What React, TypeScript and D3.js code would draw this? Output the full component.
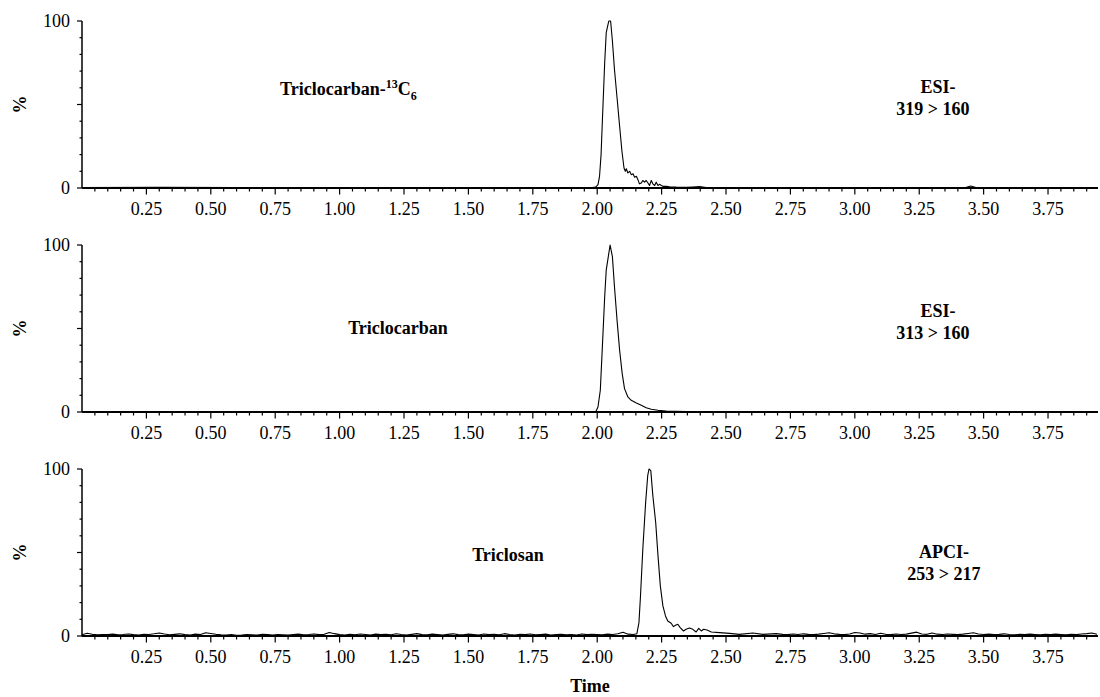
import React from "react";
import * as d3 from "d3";

// ---------- DATA ----------
const xTickLabels = ["0.25", "0.50", "0.75", "1.00", "1.25", "1.50", "1.75", "2.00", "2.25", "2.50", "2.75", "3.00", "3.25", "3.50", "3.75"];
const yTickLabels = ["0", "100"];

// Triclocarban-13C6 (ESI- 319 > 160): [time, %]
const triclocarban13C6: [number, number][] = [
  [0.0, 0.2], [0.3, 0.4], [0.6, 0.2], [0.9, 0.3], [1.2, 0.2], [1.5, 0.3], [1.8, 0.2], [1.98, 0.3],
  [1.994, 0.5], [2.003, 2], [2.009, 7], [2.015, 20], [2.02, 40], [2.029, 75], [2.035, 93], [2.042, 98],
  [2.045, 100], [2.052, 100], [2.059, 88], [2.067, 71], [2.077, 54], [2.087, 37], [2.096, 22],
  [2.104, 12], [2.109, 10], [2.113, 11.5], [2.119, 9], [2.126, 10], [2.132, 8], [2.139, 8.5],
  [2.145, 6.5], [2.152, 7], [2.158, 5], [2.164, 2.5], [2.171, 3], [2.177, 4.5], [2.184, 3.5],
  [2.19, 4.5], [2.197, 3], [2.203, 1.5], [2.21, 4.5], [2.216, 2.5], [2.223, 1.5], [2.229, 3.5],
  [2.236, 1.5], [2.242, 2.2], [2.249, 1.5], [2.255, 1], [2.268, 1], [2.281, 0.7], [2.307, 0.5],
  [2.345, 0.4], [2.371, 0.6], [2.397, 0.8], [2.423, 0.3], [2.7, 0.2], [3.0, 0.3], [3.3, 0.2],
  [3.43, 0.3], [3.45, 1.2], [3.47, 0.3], [3.7, 0.2], [3.944, 0.2],
];

// Triclocarban (ESI- 313 > 160)
const triclocarban: [number, number][] = [
  [0.0, 0], [1.994, 0], [2.003, 3], [2.012, 13], [2.02, 39], [2.029, 69], [2.035, 85], [2.042, 92],
  [2.05, 100], [2.059, 93], [2.067, 75], [2.077, 55], [2.087, 37], [2.097, 23], [2.106, 14],
  [2.119, 9], [2.132, 7], [2.152, 5.4], [2.171, 4], [2.19, 2.6], [2.21, 1.6], [2.236, 1],
  [2.268, 0.6], [2.307, 0.4], [2.345, 0.2], [2.4, 0], [3.944, 0],
];

// Triclosan (APCI- 253 > 217): baseline before peak, sampled every 0.02 min from 0.00
const triclosanBaselineBefore = [
  0.8, 1.6, 1.0, 0.7, 0.9, 0.8, 1.1, 0.7, 0.9, 1.2, 0.8, 0.6, 1.0, 0.9, 1.3, 1.8, 1.2, 0.7, 1.0, 1.3,
  0.8, 0.6, 1.1, 0.9, 1.9, 1.5, 1.0, 0.7, 0.5, 0.8, 0.4, 0.6, 0.9, 0.7, 0.5, 1.0, 0.8, 0.6, 0.9, 0.7,
  0.5, 0.8, 1.1, 0.7, 0.9, 1.2, 0.8, 1.0, 2.1, 1.4, 0.8, 0.6, 1.0, 0.7, 1.2, 0.9, 0.6, 1.1, 0.8, 1.0,
  0.7, 1.3, 0.9, 0.6, 1.0, 1.4, 0.8, 0.7, 1.1, 0.9, 0.6, 1.0, 1.3, 0.8, 0.7, 1.1, 0.9, 0.6, 1.2, 0.8,
  1.0, 0.7, 1.4, 0.9, 0.6, 1.0, 0.8, 1.2, 0.7, 0.9, 1.1, 0.6, 0.8, 1.0, 0.7, 0.9, 0.6, 1.2, 0.8, 1.0,
  0.9, 0.7, 1.1, 0.9, 1.3, 2.2, 1.1, 0.9,
];
const triclosanPeak: [number, number][] = [
  [2.154, 1.4], [2.162, 8], [2.168, 24], [2.177, 52], [2.188, 80], [2.196, 96], [2.201, 100],
  [2.208, 99], [2.216, 84], [2.227, 68], [2.236, 48], [2.245, 30], [2.255, 18], [2.265, 12],
  [2.274, 9], [2.287, 7.6], [2.296, 5.6], [2.304, 6.4], [2.313, 7], [2.322, 5], [2.335, 3],
  [2.345, 4], [2.358, 4.8], [2.371, 4], [2.384, 2.4], [2.394, 4.6], [2.404, 3], [2.413, 4],
  [2.426, 3.6], [2.443, 2.4], [2.475, 2], [2.514, 1.6], [2.552, 1], [2.604, 1.8], [2.643, 1],
  [2.695, 1.4],
];
// baseline after peak, sampled every 0.02 min from 2.72
const triclosanBaselineAfter = [
  1.0, 0.8, 1.2, 0.9, 1.3, 1.0, 0.8, 1.1, 1.5, 1.9, 1.3, 1.0, 0.8, 1.2, 2.1, 1.8, 1.1, 1.4, 0.9, 1.6,
  1.0, 0.8, 1.2, 0.9, 1.1, 1.7, 2.3, 1.2, 1.0, 1.8, 1.1, 0.9, 1.2, 1.0, 0.8, 1.1, 1.5, 1.9, 1.2, 0.9,
  1.1, 0.8, 1.0, 1.3, 0.9, 0.7, 1.0, 0.8, 1.1, 0.9, 0.7, 1.0, 0.8, 1.1, 0.9, 0.7, 1.0, 0.8, 1.2, 1.4,
  1.8, 1.0,
];
const SAMPLE_STEP = 0.02;
const BEFORE_START = 0.0;
const AFTER_START = 2.72;

const triclosan: [number, number][] = [
  ...triclosanBaselineBefore.map((v, i) => [BEFORE_START + i * SAMPLE_STEP, v] as [number, number]),
  ...triclosanPeak,
  ...triclosanBaselineAfter.map((v, i) => [AFTER_START + i * SAMPLE_STEP, v] as [number, number]),
];

const X_MAX = 3.944;

// ---------- LAYOUT ----------
const W = 1100;
const H = 697;
const AXIS_X0 = 82;
const AXIS_X1 = 1098;
const PANEL_TOPS = [21, 245, 469];
const PANEL_H = 167;
const FONT = "'Liberation Serif', 'Times New Roman', Times, serif";

type Label = { text: string; x: number; y: number; anchor: string };

type Panel = {
  data: [number, number][];
  title: React.ReactNode;
  titleX: number;
  titleY: number;
  titleAnchor: string;
  right: Label[];
};

const xScale = d3.scaleLinear().domain([0, X_MAX]).range([AXIS_X0, AXIS_X1]);
const minorTicks = d3.range(0.05, X_MAX, 0.05);
const yMinorTicks = d3.range(0, 101, 10);

function PanelView({ p, top }: { p: Panel; top: number }) {
  const y = d3.scaleLinear().domain([0, 100]).range([top + PANEL_H, top]);
  const line = d3
    .line<[number, number]>()
    .x((d) => xScale(d[0]))
    .y((d) => y(d[1]));
  const y0 = y(0);
  return (
    <g>
      <path d={line(p.data) || ""} fill="none" stroke="#000" strokeWidth={1.1} strokeLinejoin="round" />
      {/* y axis */}
      <line x1={AXIS_X0} x2={AXIS_X0} y1={y(100)} y2={y0} stroke="#000" strokeWidth={1.5} />
      {yMinorTicks.map((v) => (
        <line
          key={v}
          x1={AXIS_X0 - (v % 50 === 0 ? 5 : 2.5)}
          x2={AXIS_X0}
          y1={y(v)}
          y2={y(v)}
          stroke="#000"
          strokeWidth={1.2}
        />
      ))}
      {yTickLabels.map((t) => (
        <text key={t} x={70} y={y(+t)} dy="0.33em" textAnchor="end" fontSize={18} fontFamily={FONT}>
          {t}
        </text>
      ))}
      <text
        transform={`translate(20,${(y(0) + y(100)) / 2}) rotate(-90)`}
        textAnchor="middle"
        dy="0.35em"
        fontSize={18}
        fontWeight="bold"
        fontFamily={FONT}
      >
        %
      </text>
      {/* x axis */}
      <line x1={AXIS_X0} x2={AXIS_X1} y1={y0} y2={y0} stroke="#000" strokeWidth={2} />
      {minorTicks.map((t, i) => {
        const major = Math.abs(t / 0.25 - Math.round(t / 0.25)) < 1e-6;
        return (
          <line key={i} x1={xScale(t)} x2={xScale(t)} y1={y0} y2={y0 + (major ? 6.5 : 3.5)} stroke="#000" strokeWidth={1.2} />
        );
      })}
      {xTickLabels.map((t) => (
        <text key={t} x={xScale(+t)} y={y0 + 27} textAnchor="middle" fontSize={18} fontFamily={FONT}>
          {t}
        </text>
      ))}
      <text x={p.titleX} y={p.titleY} textAnchor={p.titleAnchor} fontSize={18} fontWeight="bold" fontFamily={FONT}>
        {p.title}
      </text>
      {p.right.map((l, i) => (
        <text key={i} x={l.x} y={l.y} textAnchor={l.anchor} fontSize={18} fontWeight="bold" fontFamily={FONT}>
          {l.text}
        </text>
      ))}
    </g>
  );
}

const panels: Panel[] = [
  {
    data: triclocarban13C6,
    title: (
      <>
        Triclocarban-
        <tspan dy={-7} fontSize={12}>13</tspan>
        <tspan dy={7}>C</tspan>
        <tspan dy={5} fontSize={12}>6</tspan>
      </>
    ),
    titleX: 280,
    titleY: 95,
    titleAnchor: "start",
    right: [
      { text: "ESI-", x: 938, y: 93, anchor: "middle" },
      { text: "319 > 160", x: 933, y: 115, anchor: "middle" },
    ],
  },
  {
    data: triclocarban,
    title: "Triclocarban",
    titleX: 398,
    titleY: 334,
    titleAnchor: "middle",
    right: [
      { text: "ESI-", x: 938, y: 317, anchor: "middle" },
      { text: "313 > 160", x: 933, y: 339, anchor: "middle" },
    ],
  },
  {
    data: triclosan,
    title: "Triclosan",
    titleX: 508,
    titleY: 561,
    titleAnchor: "middle",
    right: [
      { text: "APCI-", x: 944, y: 558, anchor: "middle" },
      { text: "253 > 217", x: 944, y: 580, anchor: "middle" },
    ],
  },
];

export default function App() {
  return (
    <svg
      width={W}
      height={H}
      viewBox={`0 0 ${W} ${H}`}
      style={{ position: "absolute", left: 0, top: 0, background: "#fff" }}
    >
      <rect width={W} height={H} fill="#fff" />
      {panels.map((p, i) => (
        <PanelView key={i} p={p} top={PANEL_TOPS[i]} />
      ))}
      <text x={(AXIS_X0 + AXIS_X1) / 2} y={692} textAnchor="middle" fontSize={18} fontWeight="bold" fontFamily={FONT}>
        Time
      </text>
    </svg>
  );
}
